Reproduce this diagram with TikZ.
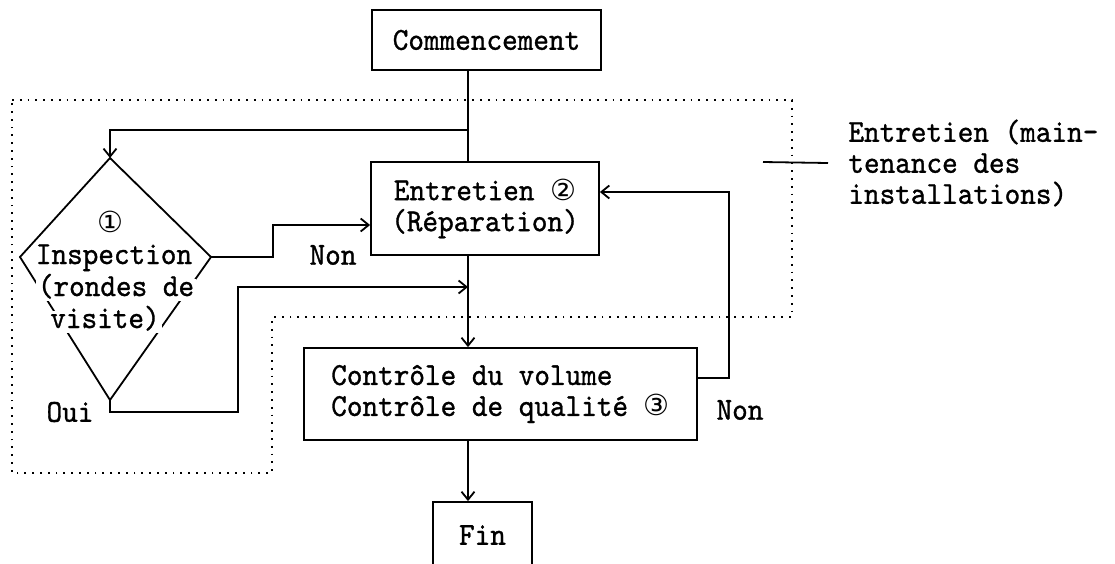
\documentclass[tikz,border=0pt]{standalone}
\usepackage{fontspec}
\usepackage{tikz}
\usetikzlibrary{arrows.meta}
\setmonofont[FakeBold=1,FakeStretch=0.93]{lmmono10-regular.otf}
\newfontfamily\circfont{DejaVu Sans}
\newcommand{\circnum}[1]{{\circfont\fontsize{14.5}{14.5}\selectfont #1}}

\begin{document}
\begin{tikzpicture}[x=0.5pt,y=-0.5pt,
    every node/.style={font=\fontsize{16}{15.5}\ttfamily},
    box/.style={draw,line width=0.9pt,inner sep=0pt},
    link/.style={line width=0.9pt},
    flow/.style={line width=0.9pt,-{Straight Barb[length=4pt,width=6.5pt]}},
    zone/.style={line width=1pt,dash pattern=on 0.9pt off 3pt}]
  \useasboundingbox (0,0) rectangle (1115,563);
  % boxes
  \node[box,minimum width=114.5pt,minimum height=30pt] (comm) at (486.5,40) {Commencement};
  \node[box,minimum width=114pt,minimum height=46.5pt,align=center] (entr) at (485,208.5) {Entretien \circnum{②}\\(Réparation)};
  \node[box,minimum width=196.5pt,minimum height=46pt,align=left] (ctrl) at (500.5,394) {Contrôle du volume\\Contrôle de qualité \circnum{③}};
  \node[box,minimum width=49.5pt,minimum height=33pt] (fin) at (482.5,535) {Fin};
  % inspection
  \coordinate (insp-t) at (110,158);
  \coordinate (insp-l) at (20,257);
  \coordinate (insp-b) at (110,400);
  \coordinate (insp-r) at (211,257);
  \draw[link] (insp-t) -- (insp-r) -- (insp-b) -- (insp-l) -- cycle;
  \foreach \y/\x/\t [count=\i] in {226/110/{\circnum{①}}, 258/114/{Inspection}, 290/116/{(rondes de}, 322/105/{visite)}}
    \node[fill=white,inner xsep=1pt,inner ysep=0pt,text height=8.5pt,text depth=2.5pt] (insp-\i) at (\x,\y) {\t};
  % connectors
  \coordinate (axis) at (468,0);
  \coordinate (split) at (468,130);
  \draw[link] (comm.south -| axis) -- (entr.north -| axis);
  \draw[flow] (split) -| (insp-t);
  \draw[flow] (insp-r) -- (273,257) |- (entr.west |- 0,225);
  \draw[flow] (insp-b) -- (110,412) -| (238,287) -- (axis |- 0,287);
  \draw[flow] (entr.south -| axis) -- (ctrl.north -| axis);
  \draw[flow] (ctrl.east |- 0,378) -| (729,192) -- (entr.east |- 0,192);
  \draw[flow] (ctrl.south -| axis) -- (fin.north -| axis);
  \foreach \x/\y/\t [count=\i] in {333/255/Non, 740/410/Non, 70/412/Oui}
    \node (ans-\i) at (\x,\y) {\t};
  % maintenance zone
  \draw[zone] (12,100) -- (792,100) -- (792,317) -- (272,317) -- (272,473) -- (12,473) -- cycle;
  \node[anchor=west,align=left,inner xsep=10pt,inner ysep=0pt] (note) at (828,163) {Entretien (main-\\tenance des\\installations)};
  \coordinate (lead) at (763,162);
  \draw[link] (lead) -- (note.west);
\end{tikzpicture}
\end{document}
